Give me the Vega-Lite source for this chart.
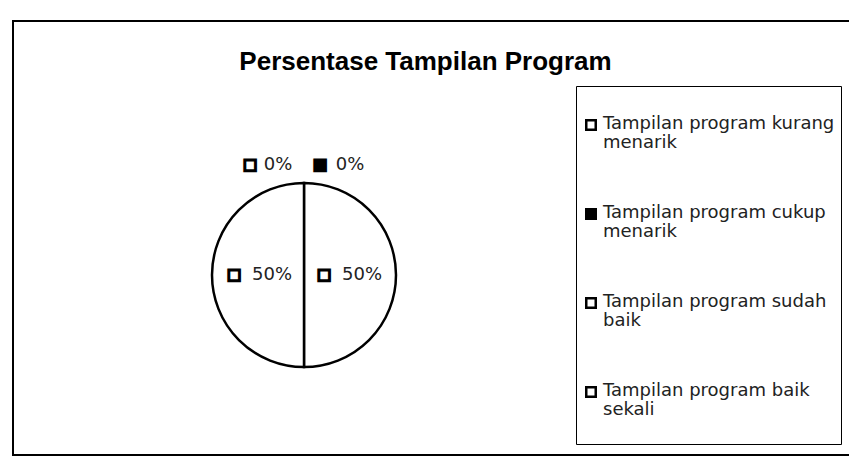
{
  "$schema": "https://vega.github.io/schema/vega-lite/v6.json",
  "width": 845,
  "height": 434,
  "autosize": {"type": "none"},
  "padding": {"left": 13, "top": 21, "right": 0, "bottom": 4},
  "background": "white",
  "view": {"stroke": "black", "strokeWidth": 2},
  "title": {
    "text": "Persentase Tampilan Program",
    "font": "Liberation Sans",
    "fontSize": 26,
    "fontWeight": "bold",
    "color": "black",
    "anchor": "middle",
    "offset": -54,
    "dx": -10
  },
  "config": {
    "view": {"stroke": "black", "strokeWidth": 2},
    "legend": {
      "orient": "none",
      "legendX": 563,
      "legendY": 65,
      "symbolType": "square",
      "symbolSize": 90,
      "symbolStrokeColor": "black",
      "symbolStrokeWidth": 2.5,
      "labelFont": "DejaVu Sans",
      "labelFontSize": 18,
      "labelColor": "#222",
      "labelLimit": 400,
      "labelOffset": 3,
      "padding": 6,
      "strokeColor": "black",
      "fillColor": "white",
      "rowPadding": 52,
      "labelBaseline": "top",
      "titleFontSize": 12,
      "titlePadding": 12
    }
  },
  "data": {
    "values": [
      {"kategori": "Tampilan program kurang menarik", "nilai": 0, "urut": 1},
      {"kategori": "Tampilan program cukup menarik", "nilai": 0, "urut": 2},
      {"kategori": "Tampilan program sudah baik", "nilai": 0.5, "urut": 3},
      {"kategori": "Tampilan program baik sekali", "nilai": 0.5, "urut": 4}
    ]
  },
  "encoding": {
    "theta": {"field": "nilai", "type": "quantitative", "stack": true},
    "order": {"field": "urut", "type": "ordinal"}
  },
  "layer": [
    {
      "mark": {"type": "arc", "outerRadius": 92, "stroke": "black", "strokeWidth": 2.5, "xOffset": -131.5, "yOffset": 37},
      "encoding": {
        "color": {
          "field": "kategori",
          "type": "nominal",
          "scale": {
            "domain": ["Tampilan program kurang menarik", "Tampilan program cukup menarik", "Tampilan program sudah baik", "Tampilan program baik sekali"],
            "range": ["white", "black", "white", "white"]
          },
          "legend": {
            "title": " ",
            "labelExpr": "datum.label == 'Tampilan program baik sekali' ? ['Tampilan program baik', 'sekali', ''] : [slice(datum.label, 0, lastindexof(datum.label, ' ')), slice(datum.label, lastindexof(datum.label, ' ') + 1)]",
            "encode": {
              "labels": {"update": {"lineHeight": {"value": 19}, "dy": {"value": -10}}}
            }
          }
        }
      }
    },
    {
      "transform": [{"filter": "datum.nilai > 0"}],
      "mark": {"type": "text", "text": "■", "font": "DejaVu Sans", "fontSize": 14, "radius": 45, "dx": -25, "fill": "white", "stroke": "black", "strokeWidth": 3, "baseline": "middle", "align": "center", "xOffset": -131.5, "yOffset": 37},
      "encoding": {}
    },
    {
      "transform": [{"filter": "datum.nilai > 0"}],
      "mark": {"type": "text", "font": "DejaVu Sans", "fontSize": 18, "radius": 45, "dx": 13, "color": "#222", "baseline": "middle", "align": "center", "xOffset": -131.5, "yOffset": 37},
      "encoding": {"text": {"field": "nilai", "type": "quantitative", "format": ".0%"}}
    },
    {
      "transform": [{"filter": "datum.urut == 1"}],
      "mark": {"type": "text", "text": "■", "font": "DejaVu Sans", "fontSize": 14, "radius": 110, "dx": -54, "fill": "white", "stroke": "black", "strokeWidth": 3, "baseline": "middle", "align": "center", "xOffset": -131.5, "yOffset": 37},
      "encoding": {}
    },
    {
      "transform": [{"filter": "datum.urut == 1"}],
      "mark": {"type": "text", "font": "DejaVu Sans", "fontSize": 18, "radius": 110, "dx": -26, "color": "#222", "baseline": "middle", "align": "center", "xOffset": -131.5, "yOffset": 37},
      "encoding": {"text": {"field": "nilai", "type": "quantitative", "format": ".0%"}}
    },
    {
      "transform": [{"filter": "datum.urut == 2"}],
      "mark": {"type": "text", "text": "■", "font": "DejaVu Sans", "fontSize": 14, "radius": 110, "dx": 16, "fill": "black", "stroke": "black", "strokeWidth": 3, "baseline": "middle", "align": "center", "xOffset": -131.5, "yOffset": 37},
      "encoding": {}
    },
    {
      "transform": [{"filter": "datum.urut == 2"}],
      "mark": {"type": "text", "font": "DejaVu Sans", "fontSize": 18, "radius": 110, "dx": 46, "color": "#222", "baseline": "middle", "align": "center", "xOffset": -131.5, "yOffset": 37},
      "encoding": {"text": {"field": "nilai", "type": "quantitative", "format": ".0%"}}
    }
  ]
}
